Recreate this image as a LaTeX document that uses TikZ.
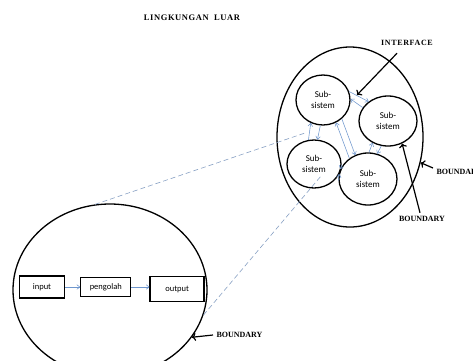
\documentclass[tikz,border=0pt]{standalone}
\usepackage{fontspec}
\setmainfont{Liberation Serif}
\newfontfamily\calibri{Carlito}
\usetikzlibrary{shapes,arrows.meta,positioning}

\definecolor{flowblue}{RGB}{110,150,205}
\definecolor{dashblue}{RGB}{135,160,195}

\tikzset{
    sub/.style={ellipse, draw, line width=1.3pt, minimum width=#1, inner sep=0pt,
        align=center, font=\calibri\fontsize{9}{11}\selectfont},
    box/.style={rectangle, draw, line width=1.3pt, inner sep=0pt,
        font=\calibri\fontsize{8.5}{10}\selectfont},
    flow/.style={->, >={To[length=3.5pt,width=5pt]}, flowblue, line width=0.55pt},
    callout/.style={->, >={To[length=4pt,width=8pt]}, line width=1.2pt},
    lbl/.style={font=\bfseries\fontsize{8}{9}\selectfont},
    link/.style={dashblue, dashed, line width=0.6pt, dash pattern=on 5pt off 3pt}
}

\begin{document}
\begin{tikzpicture}[x=1pt,y=-1pt]
    \useasboundingbox (0,0) rectangle (473,360);

    % Lingkungan luar
    \node[lbl, font=\bfseries\fontsize{8.5}{10}\selectfont] (luar) at (192,18) {\addfontfeature{LetterSpace=7}LINGKUNGAN\ \ LUAR};

    % Sistem dengan input - pengolah - output
    \node[ellipse, draw, line width=1.3pt, minimum width=194pt, minimum height=172pt] (sis) at (110,290) {};
    \node[box, minimum width=45pt, minimum height=22pt] (input) at (42,287) {input};
    \node[box, minimum width=50pt, minimum height=19pt, right=15pt of input] (olah) {pengolah};
    \node[box, minimum width=54pt, minimum height=25pt, right=18pt of olah, yshift=-2pt] (output) {output};
    \draw[flow] (input) -- (olah);
    \draw[flow] (olah) -- (output.west |- olah);

    % Supra sistem dengan sub-sistem
    \node[ellipse, draw, line width=1.3pt, minimum width=146pt, minimum height=180pt] (supra) at (350,137) {};
    \node[sub=54pt, minimum height=50pt] (s1) at (323,100) {Sub-\\sistem};
    \node[sub=58pt, minimum height=50pt] (s2) at (388,121) {Sub-\\sistem};
    \node[sub=54pt, minimum height=48pt] (s3) at (314,164) {Sub-\\sistem};
    \node[sub=58pt, minimum height=52pt] (s4) at (368,179) {Sub-\\sistem};

    % interface antar sub-sistem
    \draw[flow] (s1.18) -- (s2.135);
    \draw[flow] (s2.152) -- (s1.2);
    \draw[flow] (s3.103) -- (s1.-118);
    \draw[flow] (s1.-96) -- (s3.82);
    \draw[flow] (s1.-45) -- (s4.118);
    \draw[flow] (s4.132) -- (s1.-60);
    \draw[flow] (s4.88) -- (s2.-125);
    \draw[flow] (s2.-105) -- (s4.70);
    \draw[flow] (s3.-2) -- (s4.160);
    \draw[flow] (s4.183) -- (s3.-22);

    % garis putus-putus
    \coordinate (ifA) at (305,133);
    \coordinate (ifB) at (321,176);
    \draw[link] (sis.100) -- (ifA);
    \draw[link] (sis.-15) -- (ifB);

    % keterangan
    \node[lbl] (lblif) at (407,43) {\addfontfeature{LetterSpace=8}INTERFACE};
    \coordinate (ifC) at (357,95);
    \draw[callout] ([xshift=-10pt,yshift=-4pt]lblif.south) -- (ifC);
    \node[lbl, anchor=west] (bnd1) at (433,172) {BOUNDARY};
    \draw[callout] ([yshift=4pt]bnd1.west) -- (supra.-20);
    \node[lbl] (bnd2) at (422,219) {BOUNDARY};
    \draw[callout] ([xshift=-2pt]bnd2.north) -- (s2.-58);
    \node[lbl, anchor=west] (bnd3) at (213,335) {BOUNDARY};
    \draw[callout] (bnd3.west) -- (sis.-30);
\end{tikzpicture}
\end{document}
